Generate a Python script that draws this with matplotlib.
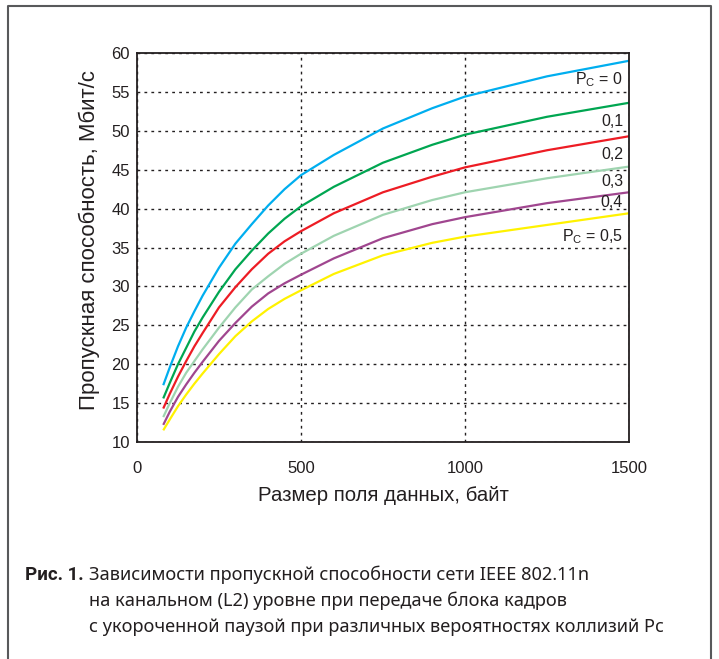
import numpy as np
import matplotlib
matplotlib.use("Agg")
import matplotlib.pyplot as plt
from matplotlib.lines import Line2D

# data (payload size, bytes -> throughput, Mbit/s)
sizes = [80, 100, 125, 150, 175, 200, 250, 300, 350, 400, 450, 500, 600, 750, 900, 1000, 1250, 1500]
pc0 = [17.3, 19.6, 22.3, 24.7, 26.8, 28.8, 32.4, 35.5, 38.0, 40.4, 42.5, 44.3, 46.9, 50.3, 52.9, 54.4, 57.0, 59.0]
pc1 = [15.6, 17.6, 20.0, 22.1, 24.2, 26.0, 29.3, 32.2, 34.6, 36.8, 38.7, 40.3, 42.8, 45.9, 48.2, 49.5, 51.8, 53.6]
pc2 = [14.3, 16.2, 18.4, 20.4, 22.3, 24.0, 27.3, 29.9, 32.2, 34.2, 35.8, 37.1, 39.4, 42.1, 44.1, 45.3, 47.5, 49.3]
pc3 = [13.2, 15.0, 17.1, 18.9, 20.4, 21.9, 24.7, 27.3, 29.6, 31.3, 32.9, 34.2, 36.5, 39.2, 41.1, 42.1, 43.9, 45.4]
pc4 = [12.2, 13.9, 15.8, 17.4, 18.9, 20.3, 23.0, 25.3, 27.4, 29.1, 30.4, 31.5, 33.6, 36.2, 38.0, 38.9, 40.7, 42.1]
pc5 = [11.5, 12.9, 14.6, 16.1, 17.5, 18.8, 21.3, 23.6, 25.5, 27.1, 28.4, 29.5, 31.6, 34.0, 35.6, 36.4, 37.9, 39.4]

series = [pc0, pc1, pc2, pc3, pc4, pc5]
colors = ["#00aeef", "#00a651", "#ed1c24", "#9fd4b0", "#a0468f", "#fff200"]
labels = ["P$_\\mathregular{C}$ = 0", "0,1", "0,2", "0,3", "0,4", "P$_\\mathregular{C}$ = 0,5"]
label_y = [56.6, 51.2, 47.0, 43.5, 40.8, 36.4]

xticks = [0, 500, 1000, 1500]
yticks = [10, 15, 20, 25, 30, 35, 40, 45, 50, 55, 60]

plt.rcParams["font.family"] = ["Liberation Sans", "DejaVu Sans"]
ink = "#231f20"

W, H = 719, 659
fig = plt.figure(figsize=(W / 100, H / 100), dpi=100)
ax = fig.add_axes([137 / W, 1 - 442 / H, 492 / W, 389 / H])

for vals, c in zip(series, colors):
    ax.plot(sizes, vals, color=c, lw=1.6, solid_capstyle="butt", solid_joinstyle="round")

for lab, y in zip(labels, label_y):
    ax.text(1482, y, lab, ha="right", va="center", fontsize=11.5, color=ink)

ax.set_xlim(0, 1500)
ax.set_ylim(10, 60)
ax.set_xticks(xticks)
ax.set_yticks(yticks)
ax.tick_params(length=0, labelsize=12, colors=ink)
ax.tick_params(axis="x", pad=14)
ax.tick_params(axis="y", pad=5)
ax.grid(True, color=ink, lw=1.0, linestyle=(0, (2, 3)))
for s in ax.spines.values():
    s.set_color(ink)
    s.set_linewidth(1.3)

ax.set_xlabel("Размер поля данных, байт", fontsize=14.7, color=ink, labelpad=7)
ax.set_ylabel("Пропускная способность, Мбит/с", fontsize=16, color=ink, labelpad=8)
ax.yaxis.label.set_y(0.52)

# outer frame
fig.add_artist(Line2D([8 / W, 8 / W, 711 / W, 711 / W], [0, 1 - 6 / H, 1 - 6 / H, 0],
                      transform=fig.transFigure, color="#58595b", lw=1.5))

# caption
cap_font = ["Noto Sans", "DejaVu Sans"]
fig.text(25 / W, 1 - 575 / H, "Рис. 1.", fontsize=13.5, fontweight="bold",
         family=["Roboto", "DejaVu Sans"], color=ink, va="center")
cap_lines = ["Зависимости пропускной способности сети IEEE 802.11n",
             "на канальном (L2) уровне при передаче блока кадров",
             "с укороченной паузой при различных вероятностях коллизий Pc"]
for i, line in enumerate(cap_lines):
    fig.text(89 / W, 1 - (575 + 26 * i) / H, line, fontsize=13.1, family=cap_font,
             fontstretch="condensed", color=ink, va="center")

fig.savefig("out.png", dpi=100)
